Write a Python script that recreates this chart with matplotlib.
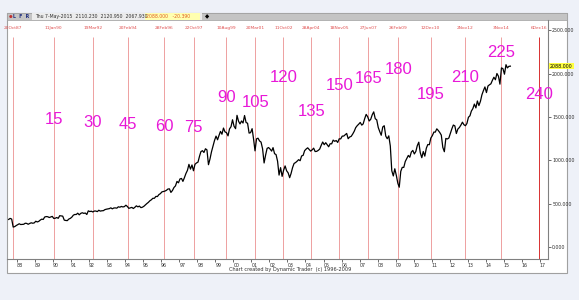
import numpy as np
import pandas as pd
import matplotlib
matplotlib.use("Agg")
import matplotlib.pyplot as plt
import matplotlib.dates as mdates
from matplotlib.patches import Rectangle

# monthly S&P 500 levels, Jul 1987 .. May 2015
close = [
    318, 330, 322, 230, 235, 247,
    257, 268, 259, 261, 262, 274, 272, 262, 272, 279, 274, 278,
    297, 289, 295, 310, 321, 318, 346, 351, 349, 340, 346, 353,
    329, 332, 340, 331, 361, 358, 356, 310, 306, 304, 322, 330,
    344, 367, 375, 375, 390, 371, 388, 395, 388, 392, 375, 417,
    409, 413, 404, 415, 415, 408, 424, 414, 418, 419, 431, 436,
    439, 443, 452, 440, 450, 451, 448, 464, 459, 468, 462, 466,
    482, 467, 446, 451, 457, 444, 458, 475, 463, 472, 454, 459,
    470, 487, 501, 515, 533, 545, 562, 562, 584, 582, 605, 616,
    636, 640, 645, 654, 669, 671, 630, 652, 687, 705, 757, 741,
    786, 791, 757, 801, 848, 885, 954, 899, 947, 880, 955, 970,
    980, 1049, 1101, 1112, 1091, 1134, 1121, 950, 1017, 1099, 1164, 1229,
    1280, 1238, 1286, 1335, 1302, 1373, 1329, 1320, 1283, 1363, 1389, 1469,
    1394, 1366, 1520, 1452, 1421, 1455, 1431, 1518, 1437, 1429, 1315, 1320,
    1366, 1240, 1110, 1249, 1256, 1224, 1211, 1134, 970, 1060, 1139, 1148,
    1130, 1107, 1147, 1077, 1067, 990, 830, 916, 815, 886, 936, 880,
    856, 800, 848, 917, 964, 975, 990, 1008, 996, 1051, 1058, 1112,
    1131, 1145, 1126, 1107, 1121, 1141, 1102, 1104, 1115, 1130, 1174, 1212,
    1181, 1204, 1181, 1157, 1192, 1191, 1234, 1220, 1229, 1207, 1249, 1248,
    1280, 1281, 1295, 1311, 1250, 1270, 1277, 1304, 1336, 1378, 1401, 1418,
    1438, 1407, 1421, 1482, 1531, 1503, 1455, 1474, 1527, 1560, 1481, 1468,
    1379, 1331, 1290, 1386, 1400, 1280, 1250, 1283, 1166, 880, 820, 903,
    826, 735, 690, 873, 919, 919, 987, 1021, 1057, 1036, 1096, 1115,
    1074, 1104, 1169, 1210, 1089, 1031, 1102, 1049, 1141, 1183, 1181, 1258,
    1286, 1327, 1326, 1364, 1345, 1321, 1292, 1150, 1100, 1253, 1247, 1258,
    1312, 1366, 1408, 1398, 1310, 1362, 1379, 1407, 1441, 1412, 1400, 1426,
    1498, 1515, 1569, 1598, 1650, 1606, 1686, 1633, 1682, 1757, 1806, 1848,
    1783, 1859, 1872, 1884, 1924, 1960, 1931, 2003, 1972, 1880, 2068, 2059,
    1995, 2105, 2068, 2086, 2088,
]
dates = pd.date_range("1987-07-01", periods=len(close), freq="MS") + pd.Timedelta(days=14)

# time-cycle lines and the counts written next to them
line_dates = pd.to_datetime([
    "1987-10-20", "1990-01-11", "1992-03-19", "1994-02-20", "1996-02-28",
    "1997-10-22", "1999-08-10", "2001-03-20", "2002-10-11", "2004-04-28",
    "2005-11-18", "2007-06-27", "2009-02-26", "2010-12-12", "2012-11-02",
    "2014-11-03", "2016-12-06",
])
counts = ["15", "30", "45", "60", "75", "90", "105", "120", "135", "150",
          "165", "180", "195", "210", "225", "240"]
count_y = [1467, 1443, 1409, 1386, 1374, 1721, 1674, 1952, 1559, 1859,
           1940, 2055, 1755, 1952, 2240, 1755]

W, H = 579, 300
bg = "#eef1f8"
fig = plt.figure(figsize=(W / 100, H / 100), dpi=100, facecolor=bg)

def fx(px):
    return px / W

def fy(py):
    return 1 - py / H

# white chart panel and header bar
fig.patches.append(Rectangle((fx(7), fy(273)), fx(560), 260 / H, transform=fig.transFigure,
                             facecolor="white", edgecolor="#a0a0a0", lw=0.8, zorder=0))
fig.patches.append(Rectangle((fx(7), fy(20)), fx(560), 7 / H, transform=fig.transFigure,
                             facecolor="#c4c4c4", edgecolor="#a0a0a0", lw=0.5, zorder=1))
fig.patches.append(Rectangle((fx(32), fy(20)), fx(170), 7 / H, transform=fig.transFigure,
                             facecolor="#ececec", edgecolor="none", zorder=1))
fig.patches.append(Rectangle((fx(145), fy(19.5)), fx(55), 6 / H, transform=fig.transFigure,
                             facecolor="#ffffb0", edgecolor="none", zorder=1))
hy = fy(16.5)
fig.text(fx(9), hy, "\u25cf", color="#c03030", fontsize=3, va="center")
fig.text(fx(13), hy, "L  F  R", color="#203080", fontsize=3.4, va="center", weight="bold")
fig.text(fx(35), hy, "Thu 7-May-2015  2110.230  2120.950  2067.930", color="#303030",
         fontsize=3.3, va="center")
fig.text(fx(146), hy, "2088.000   -20.390", color="#e06020", fontsize=3.3, va="center")
fig.text(fx(205), hy, "\u25c6", color="black", fontsize=4, va="center")
fig.text(fx(290), fy(270), "Chart created by Dynamic Trader  (c) 1996-2009", color="#303030",
         fontsize=3.6, ha="center", va="center")

ax = fig.add_axes([fx(7), fy(259), fx(541), 239 / H])
ax.set_zorder(5)
ax.set_facecolor("none")
ax.plot(dates, close, color="black", lw=0.9, zorder=3)

ymin, ymax = -139, 2621
ax.set_ylim(ymin, ymax)
ax.set_xlim(pd.Timestamp("1987-06-12"), pd.Timestamp("2017-06-15"))

line_top = 2430
for i, d in enumerate(line_dates):
    c = "#d83030" if i == len(line_dates) - 1 else "#eea0a0"
    ax.vlines(d, ymin, line_top, color=c, lw=0.7, zorder=2)
    ax.text(d, 2530, f"{d.day}{d.strftime('%b%y')}", color="#e05050", fontsize=3.2,
            ha="center", va="center")
for d, t, y in zip(line_dates[1:], counts, count_y):
    ax.text(d, y, t, color="#e818d8", fontsize=12, ha="center", va="center",
            family="Liberation Sans")

for s in ["top", "left"]:
    ax.spines[s].set_visible(False)
ax.spines["right"].set_color("#808080")
ax.spines["bottom"].set_color("#808080")
ax.spines["right"].set_linewidth(0.8)
ax.spines["bottom"].set_linewidth(0.8)

ax.yaxis.tick_right()
ax.set_yticks([0, 500, 1000, 1500, 2000, 2500])
ax.set_yticklabels([f"{v}.000" for v in [0, 500, 1000, 1500, 2000, 2500]])
ax.tick_params(axis="y", labelsize=3.4, length=2, width=0.5, pad=1, colors="#303030")
ax.text(1.004, (2088 - ymin) / (ymax - ymin), "2088.000", transform=ax.transAxes,
        fontsize=3.4, va="center", ha="left",
        bbox=dict(boxstyle="square,pad=0.15", facecolor="#ffff40", edgecolor="none"))

ax.xaxis.set_major_locator(mdates.YearLocator())
ax.xaxis.set_major_formatter(mdates.DateFormatter("%y"))
ax.tick_params(axis="x", labelsize=3.4, length=2, width=0.5, pad=1, colors="#303030")
plt.setp(ax.get_xticklabels(), ha="left")

fig.savefig("out.png", dpi=100, facecolor=bg)
